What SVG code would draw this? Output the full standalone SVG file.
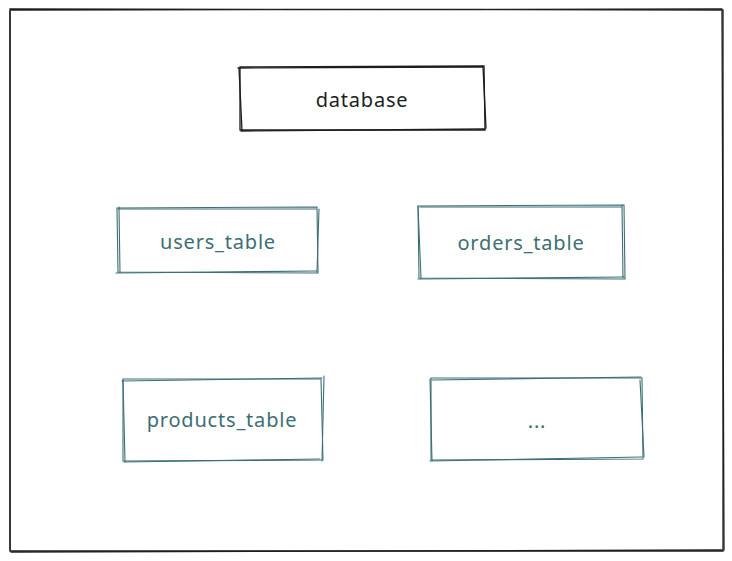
<svg xmlns="http://www.w3.org/2000/svg" width="732" height="561" viewBox="0 0 732 561">
<style>
.dk{fill:none;stroke:#1e1e1e;stroke-width:1.3;stroke-linecap:round}
.tl{fill:none;stroke:#3c6f74;stroke-width:1.1;stroke-linecap:round}
.t{font-family:"Noto Sans","Liberation Sans",sans-serif;font-size:20px;letter-spacing:0.8px;text-anchor:middle;dominant-baseline:central}
.td{fill:#1e1e1e}
.tt{fill:#3c6f74}
</style>
<rect width="732" height="561" fill="#ffffff"/>
<g id="frame">
<path class="dk" d="M10 9 L723 10 L723 551 L10 551 Z"/>
<path class="dk" d="M11 10 L722 9 M722 11 L724 550 M722 550 L11 552 M10 550 L10 11" stroke-width="0.8"/>
</g>
<g id="database">
<path class="dk" d="M240 67 L484 66 L485 130 L240 130 Z"/>
<path class="dk" d="M238 68 L482 67 M483 67 L486 128 M485 129 L241 131 M242 131 L239 68" stroke-width="0.9"/>
<text class="t td" x="362" y="99">database</text>
</g>
<g id="users_table">
<path class="tl" d="M117 208 L317 207 L318 273 L118 272 Z"/>
<path class="tl" d="M118 209 L316 209 M319 209 L317 272 M316 271 L116 273 M120 273 L119 207" stroke-width="0.8"/>
<text class="t tt" x="218" y="241">users_table</text>
</g>
<g id="orders_table">
<path class="tl" d="M418 206 L624 205 L625 279 L419 278 Z"/>
<path class="tl" d="M420 207 L622 207 M622 205 L623 278 M624 277 L418 279 M421 278 L418 206" stroke-width="0.8"/>
<text class="t tt" x="521" y="242">orders_table</text>
</g>
<g id="products_table">
<path class="tl" d="M123 379 L321 379 L323 460 L123 461 Z"/>
<path class="tl" d="M122 381 L322 378 M324 376 L322 461 M320 459 L124 462 M125 461 L123 380" stroke-width="0.8"/>
<text class="t tt" x="222" y="419">products_table</text>
</g>
<g id="more">
<path class="tl" d="M431 378 L642 378 L643 459 L431 460 Z"/>
<path class="tl" d="M432 380 L641 377 M640 380 L644 457 M642 457 L430 461 M432 461 L430 379" stroke-width="0.8"/>
<text class="t tt" x="537" y="420">...</text>
</g>
<g id="connectors"></g>
</svg>
